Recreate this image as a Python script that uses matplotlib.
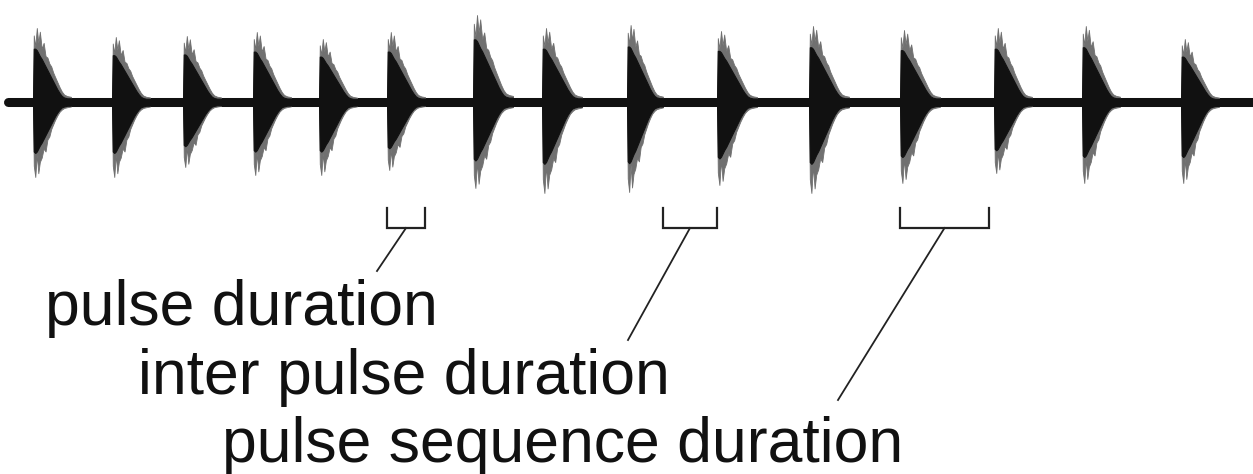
import matplotlib
matplotlib.use("Agg")
import matplotlib.pyplot as plt
import numpy as np

# ---- data (time / amplitude units) ----
pulse_onsets = [33, 112, 183, 253, 319, 387, 473, 542, 627, 717, 809, 900, 994, 1082, 1181]
pulse_durations = [38, 38, 38, 38, 38, 38, 40, 40, 36, 40, 40, 40, 38, 38, 38]
pulse_amp_up = [74, 65, 66, 70, 63, 70, 87, 74, 77, 71, 76, 72, 74, 76, 63]
pulse_amp_down = [75, 75, 65, 73, 73, 68, 86, 91, 90, 83, 91, 81, 71, 81, 81]

# envelope profile of one pulse (normalised time, relative amplitude)
env_t = [0.0, 0.02, 0.06, 0.10, 0.14, 0.18, 0.23, 0.28, 0.33, 0.38, 0.43, 0.48,
         0.53, 0.58, 0.64, 0.70, 0.76, 0.82, 0.90, 1.0]
gray_up = [0.0, 0.9, 0.75, 1.0, 0.8, 0.95, 0.72, 0.8, 0.62, 0.6, 0.52, 0.48,
           0.4, 0.34, 0.27, 0.2, 0.14, 0.1, 0.08, 0.07]
gray_dn = [0.0, 0.85, 1.0, 0.7, 0.95, 0.8, 0.74, 0.62, 0.66, 0.5, 0.46, 0.36,
           0.3, 0.24, 0.18, 0.13, 0.1, 0.08, 0.07, 0.06]
black_up = [0.0, 0.72, 0.72, 0.7, 0.66, 0.62, 0.58, 0.53, 0.48, 0.43, 0.38, 0.33,
            0.28, 0.23, 0.17, 0.12, 0.08, 0.06, 0.05, 0.05]
black_dn = [0.0, 0.66, 0.68, 0.66, 0.62, 0.58, 0.54, 0.49, 0.44, 0.39, 0.34, 0.29,
            0.24, 0.19, 0.14, 0.1, 0.07, 0.06, 0.05, 0.05]

baseline_level = 102
trace_start = 8
trace_end = 1253

labels = ["pulse duration", "inter pulse duration", "pulse sequence duration"]

# ---- figure ----
W, H = 1253, 474
fig = plt.figure(figsize=(W / 100, H / 100), dpi=100)
ax = fig.add_axes([0, 0, 1, 1])
ax.set_xlim(0, W)
ax.set_ylim(H, 0)
ax.axis("off")

# baseline noise band
ax.plot([trace_start, trace_end], [baseline_level, baseline_level],
        color="#111111", lw=6.5, solid_capstyle="round", zorder=2)

et = np.array(env_t)
for t0, d, au, ad in zip(pulse_onsets, pulse_durations, pulse_amp_up, pulse_amp_down):
    x = t0 + d * et
    ax.fill_between(x, baseline_level - au * np.array(gray_up),
                    baseline_level + ad * np.array(gray_dn),
                    color="#707070", lw=0.6, edgecolor="#707070", zorder=3)
    ax.fill_between(x, baseline_level - au * np.array(black_up),
                    baseline_level + ad * np.array(black_dn),
                    color="#111111", lw=0.8, edgecolor="#111111", zorder=4)

# brackets
br_top, br_bot = 208, 228
def bracket(x0, x1, tx, ty):
    ax.plot([x0, x0, x1, x1], [br_top, br_bot, br_bot, br_top],
            color="#222222", lw=1.6, solid_joinstyle="miter", zorder=5)
    xm = (x0 + x1) / 2
    ax.plot([xm, tx], [br_bot, ty], color="#222222", lw=1.3, zorder=5)

i = 5
bracket(pulse_onsets[i], pulse_onsets[i] + pulse_durations[i], 377, 271)
i = 8
bracket(pulse_onsets[i] + pulse_durations[i], pulse_onsets[i + 1], 628, 340)
i = 11
bracket(pulse_onsets[i], pulse_onsets[i + 1] - 5, 838, 400)

# labels
txt_kw = dict(fontsize=45, family=["Liberation Sans", "DejaVu Sans"], color="#111111",
              ha="left", va="baseline")
ax.text(45, 325, labels[0], **txt_kw)
ax.text(138, 394, labels[1], **txt_kw)
ax.text(222, 462, labels[2], **txt_kw)

fig.savefig("out.png", dpi=100, facecolor="white")
